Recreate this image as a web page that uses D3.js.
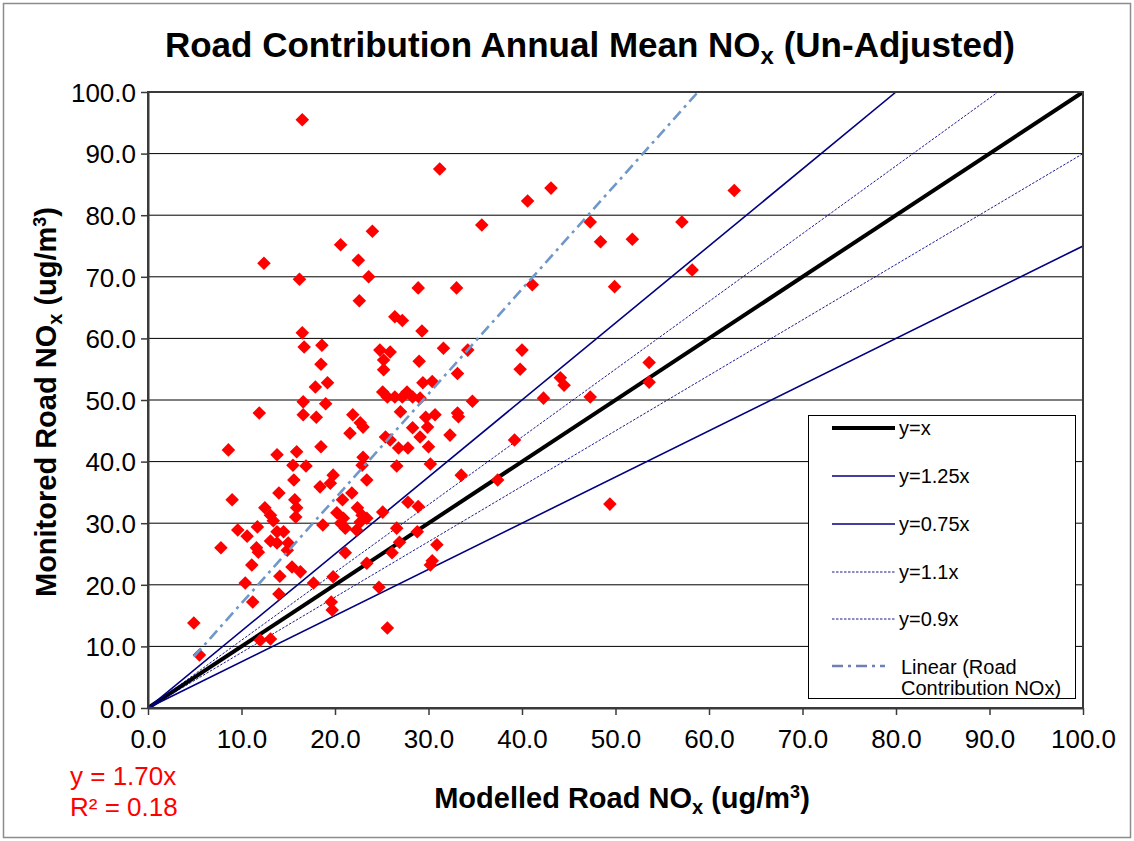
<!DOCTYPE html>
<html>
<head>
<meta charset="utf-8">
<script src="https://cdn.jsdelivr.net/npm/d3@7"></script>
<style>
  html, body { margin: 0; padding: 0; background: #fff; }
  svg { display: block; font-family: "Liberation Sans", Arial, sans-serif; }
</style>
</head>
<body>
<svg id="chart" width="1134" height="841"></svg>
<script>
// ---------------- data ----------------
const modelled = [
  16.5, 31.2, 43.1, 40.6, 62.7, 35.7, 47.3, 48.4, 51.8, 57.1,
  58.2, 28.9, 33.0, 41.1, 49.9, 24.0, 20.6, 12.4, 22.5, 16.2,
  23.6, 22.6, 26.4, 27.2, 29.3, 31.6, 34.2, 40.0, 29.0, 39.8,
  33.1, 53.6, 44.1, 44.5, 53.6, 29.4, 30.4, 16.5, 16.7, 18.6,
  24.8, 25.9, 18.5, 25.2, 25.2, 17.9, 19.2, 25.1, 25.6, 26.4,
  27.2, 27.7, 28.3, 29.1, 34.7, 42.3, 47.3, 16.6, 19.0, 11.9,
  16.6, 18.0, 21.9, 22.7, 23.0, 27.0, 29.7, 30.7, 33.1, 33.2,
  21.6, 28.3, 29.9, 29.1, 32.3, 25.4, 25.9, 39.2, 8.6, 18.5,
  26.8, 27.8, 30.0, 13.8, 15.9, 15.5, 16.9, 23.0, 22.9, 26.6,
  30.2, 15.6, 19.8, 19.5, 23.4, 18.4, 33.5, 37.4, 9.0, 14.0,
  15.7, 20.8, 21.8, 27.8, 28.9, 25.1, 12.5, 22.4, 15.9, 15.8,
  13.1, 13.4, 18.7, 20.2, 20.9, 20.6, 21.1, 22.9, 23.4, 22.7,
  22.3, 9.6, 10.6, 11.7, 13.8, 14.5, 13.1, 13.8, 15.0, 11.6,
  11.8, 14.9, 7.8, 26.6, 28.8, 26.9, 30.9, 21.1, 26.1, 11.1,
  15.4, 16.3, 23.4, 30.4, 30.2, 14.1, 19.8, 10.4, 17.7, 24.7,
  14.0, 11.2, 19.6, 19.7, 4.9, 25.6, 12.0, 13.1, 5.5, 49.4
];
const monitored = [
  95.5, 87.5, 84.4, 82.3, 84.0, 78.4, 78.9, 75.7, 76.1, 78.9,
  71.1, 68.2, 68.2, 68.7, 68.4, 77.4, 75.2, 72.2, 72.7, 69.6,
  70.0, 66.1, 63.5, 62.9, 61.2, 58.4, 58.1, 58.1, 56.3, 55.0,
  54.3, 56.1, 53.6, 52.4, 52.9, 52.8, 53.0, 60.9, 58.6, 58.9,
  58.1, 57.8, 55.8, 56.5, 54.9, 52.1, 52.8, 51.3, 50.5, 50.5,
  50.5, 51.3, 50.5, 50.3, 49.8, 50.3, 50.5, 49.7, 49.4, 47.9,
  47.6, 47.2, 47.6, 46.3, 45.6, 48.1, 47.2, 47.6, 47.9, 47.3,
  44.6, 45.5, 45.6, 44.0, 44.3, 44.0, 43.5, 43.5, 41.9, 42.4,
  42.2, 42.2, 42.4, 41.1, 41.6, 39.4, 39.3, 40.7, 39.4, 39.3,
  39.6, 37.0, 37.8, 36.5, 37.0, 35.9, 37.8, 37.0, 33.8, 34.9,
  33.8, 33.8, 34.9, 33.4, 32.7, 31.8, 32.5, 32.5, 32.5, 31.0,
  31.3, 30.4, 29.7, 31.7, 30.8, 30.0, 29.2, 31.3, 30.8, 30.2,
  28.9, 28.9, 27.9, 29.4, 28.6, 28.6, 27.1, 26.8, 26.8, 26.0,
  25.3, 25.6, 26.0, 29.2, 28.6, 26.9, 26.5, 25.2, 25.2, 23.2,
  22.9, 22.1, 23.5, 23.9, 23.2, 21.4, 21.3, 20.3, 20.3, 19.6,
  18.5, 17.2, 17.2, 15.9, 13.8, 13.0, 11.0, 11.2, 8.6, 33.1
];
const xTicks = [0, 10, 20, 30, 40, 50, 60, 70, 80, 90, 100];
const yTicks = [0, 10, 20, 30, 40, 50, 60, 70, 80, 90, 100];
const refNames = ["y=x", "y=1.25x", "y=0.75x", "y=1.1x", "y=0.9x"];
const refSlopes = [1, 1.25, 0.75, 1.1, 0.9];
const trendSlope = 1.70;
const trendLabel = ["Linear (Road", "Contribution NOx)"];
const eqLines = ["y = 1.70x", "R\u00B2 = 0.18"];

// ---------------- layout ----------------
const svg = d3.select("#chart");
const W = 1134, H = 841;
const L = 148, R = 1083, T = 92, B = 708;

const x = d3.scaleLinear().domain([0, 100]).range([L, R]);
const y = d3.scaleLinear().domain([0, 100]).range([B, T]);

// outer frame
svg.append("rect").attr("x", 3.5).attr("y", 3.5).attr("width", W - 7).attr("height", H - 7)
  .attr("fill", "#fff").attr("stroke", "#8c8c8c").attr("stroke-width", 1.5);

// clip
svg.append("defs").append("clipPath").attr("id", "plotclip")
  .append("rect").attr("x", L).attr("y", T).attr("width", R - L).attr("height", B - T);

// gridlines
svg.append("g").selectAll("line").data(yTicks.filter(d => d > 0 && d < 100)).join("line")
  .attr("x1", L).attr("x2", R).attr("y1", d => y(d)).attr("y2", d => y(d))
  .attr("stroke", "#000").attr("stroke-width", 1);

// reference lines
const refStyles = [
  { color: "#000", width: 4, dash: null },
  { color: "#000080", width: 1.6, dash: null },
  { color: "#000080", width: 1.6, dash: null },
  { color: "#000080", width: 0.9, dash: "2.5,1.5" },
  { color: "#000080", width: 0.9, dash: "2.5,1.5" }
];
const plotG = svg.append("g").attr("clip-path", "url(#plotclip)");
const lineGen = d3.line().x(d => x(d[0])).y(d => y(d[1]));
refSlopes.forEach((s, i) => {
  const xe = Math.min(100, 100 / s);
  plotG.append("path").datum([[0, 0], [xe, s * xe]])
    .attr("d", lineGen).attr("fill", "none")
    .attr("stroke", refStyles[i].color).attr("stroke-width", refStyles[i].width)
    .attr("stroke-dasharray", refStyles[i].dash);
});

// points
const pts = modelled.map((m, i) => [m, monitored[i]]);
const sym = d3.symbol().type(d3.symbolSquare).size(92);
plotG.append("g").selectAll("path").data(pts).join("path")
  .attr("d", sym)
  .attr("transform", d => `translate(${x(d[0])},${y(d[1])}) rotate(45)`)
  .attr("fill", "#ff0000");

// trend line
const xmin = d3.min(modelled), xmax = d3.max(modelled);
plotG.append("path").datum([[xmin, trendSlope * xmin], [xmax, trendSlope * xmax]])
  .attr("d", lineGen).attr("fill", "none")
  .attr("stroke", "#6f97c9").attr("stroke-width", 2.6)
  .attr("stroke-dasharray", "11,5,3,5");

// plot border
svg.append("rect").attr("x", L).attr("y", T).attr("width", R - L).attr("height", B - T)
  .attr("fill", "none").attr("stroke", "#3a3a3a").attr("stroke-width", 2);

// axes
const fmt = d => d.toFixed(1);
const xAxis = svg.append("g").attr("transform", `translate(0,${B})`)
  .call(d3.axisBottom(x).tickValues(xTicks).tickFormat(fmt).tickSize(7).tickSizeOuter(0));
const yAxis = svg.append("g").attr("transform", `translate(${L},0)`)
  .call(d3.axisLeft(y).tickValues(yTicks).tickFormat(fmt).tickSize(7).tickSizeOuter(0));
[xAxis, yAxis].forEach(a => {
  a.select(".domain").attr("stroke", "#3a3a3a").attr("stroke-width", 2);
  a.selectAll(".tick line").attr("stroke", "#3a3a3a").attr("stroke-width", 1.5);
  a.selectAll(".tick text").attr("font-family", "Liberation Sans, Arial, sans-serif")
    .attr("font-size", 26).attr("fill", "#000");
});
xAxis.selectAll(".tick text").attr("dy", "1.17em");
yAxis.selectAll(".tick text").attr("x", -12).attr("dy", "0.36em");

// title
const title = svg.append("text").attr("x", 590).attr("y", 57).attr("text-anchor", "middle")
  .attr("font-size", 35).attr("font-weight", "bold").attr("fill", "#000");
title.append("tspan").text("Road Contribution Annual Mean NO");
title.append("tspan").text("x").attr("font-size", 24).attr("dy", 7);
title.append("tspan").text(" (Un-Adjusted)").attr("dy", -7);

// x label
const xl = svg.append("text").attr("x", 622).attr("y", 808).attr("text-anchor", "middle")
  .attr("font-size", 29).attr("font-weight", "bold").attr("fill", "#000");
xl.append("tspan").text("Modelled Road NO");
xl.append("tspan").text("x").attr("font-size", 20).attr("dy", 6);
xl.append("tspan").text(" (ug/m").attr("dy", -6);
xl.append("tspan").text("3").attr("font-size", 18).attr("dy", -10);
xl.append("tspan").text(")").attr("dy", 10);

// y label
const yl = svg.append("text").attr("transform", "translate(56,402) rotate(-90)").attr("text-anchor", "middle")
  .attr("font-size", 29).attr("font-weight", "bold").attr("fill", "#000");
yl.append("tspan").text("Monitored Road NO");
yl.append("tspan").text("x").attr("font-size", 20).attr("dy", 6);
yl.append("tspan").text(" (ug/m").attr("dy", -6);
yl.append("tspan").text("3").attr("font-size", 18).attr("dy", -10);
yl.append("tspan").text(")").attr("dy", 10);

// equation
svg.append("g").selectAll("text").data(eqLines).join("text")
  .attr("x", 70).attr("y", (d, i) => 785 + i * 31)
  .attr("font-size", 26).attr("fill", "#ff0000").text(d => d);

// legend
const lg = svg.append("g");
lg.append("rect").attr("x", 808.5).attr("y", 415.5).attr("width", 267).attr("height", 283)
  .attr("fill", "#fff").attr("stroke", "#000").attr("stroke-width", 1);
const rowY = [428, 476, 524, 572, 619];
refNames.forEach((n, i) => {
  lg.append("line").attr("x1", 832).attr("x2", 895).attr("y1", rowY[i]).attr("y2", rowY[i])
    .attr("stroke", refStyles[i].color).attr("stroke-width", refStyles[i].width)
    .attr("stroke-dasharray", refStyles[i].dash);
  lg.append("text").attr("x", 899).attr("y", rowY[i] + 7).attr("font-size", 20).attr("fill", "#000").text(n);
});
lg.append("line").attr("x1", 832).attr("x2", 885).attr("y1", 666).attr("y2", 666)
  .attr("stroke", "#6f7fb8").attr("stroke-width", 2.6).attr("stroke-dasharray", "11,5,3,5");
trendLabel.forEach((t, i) => {
  lg.append("text").attr("x", 901).attr("y", 674 + i * 21).attr("font-size", 20).attr("fill", "#000").text(t);
});
</script>
</body>
</html>
